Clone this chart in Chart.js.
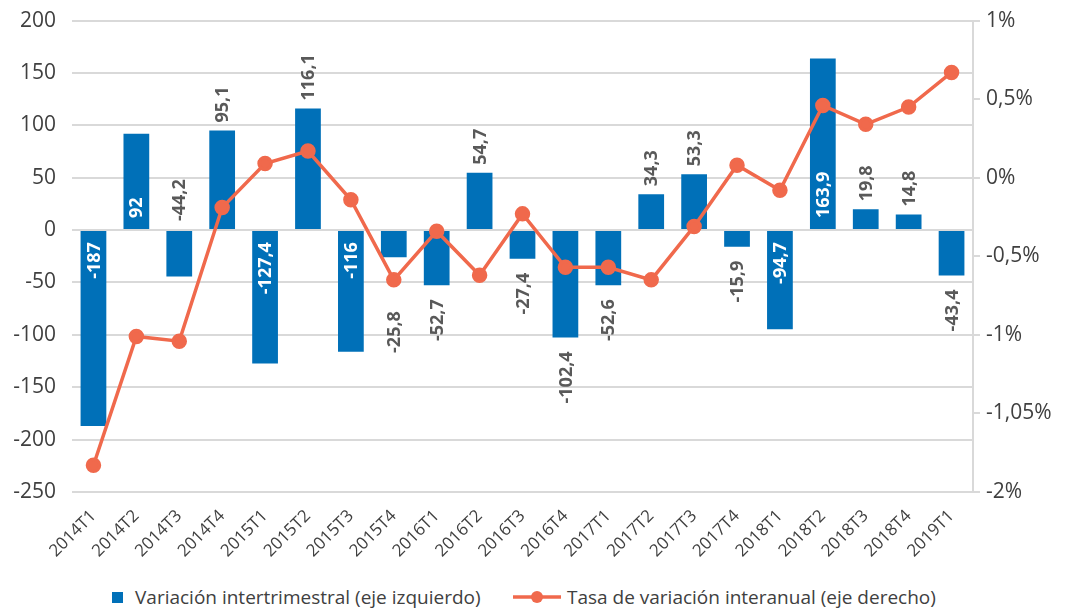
<!DOCTYPE html>
<html>
<head>
<meta charset="utf-8">
<script src="https://cdn.jsdelivr.net/npm/chart.js@4.4.1/dist/chart.umd.min.js"></script>
<style>
  body{margin:0;background:#fff;font-family:"Open Sans",sans-serif;overflow:hidden;}
  #wrap{position:relative;width:1067px;height:612px;overflow:hidden;}
  #box{position:absolute;left:0;top:-8px;width:1067px;height:583px;}
  #legend{position:absolute;left:0;top:584px;width:1067px;font-size:19px;color:#404040;}
  .item{position:absolute;top:0;white-space:nowrap;line-height:26px;}
  .sq{position:absolute;width:11px;height:11px;background:#0070b8;top:8px;}
</style>
</head>
<body>
<div id="wrap">
  <div id="box"><canvas id="chart"></canvas></div>
  <div id="legend">
    <div class="sq" style="left:112px"></div>
    <div class="item" style="left:135px">Variación intertrimestral (eje izquierdo)</div>
    <svg style="position:absolute;left:511px;top:3px" width="52" height="20">
      <line x1="2" y1="10" x2="50" y2="10" stroke="#f0694c" stroke-width="3.5"/>
      <circle cx="26" cy="10" r="6" fill="#f0694c"/>
    </svg>
    <div class="item" style="left:567px">Tasa de variación interanual (eje derecho)</div>
  </div>
</div>
<script>
const quarters = ["2014T1","2014T2","2014T3","2014T4","2015T1","2015T2","2015T3","2015T4",
  "2016T1","2016T2","2016T3","2016T4","2017T1","2017T2","2017T3","2017T4",
  "2018T1","2018T2","2018T3","2018T4","2019T1"];
const quarterlyChange = [-187,92,-44.2,95.1,-127.4,116.1,-116,-25.8,-52.7,54.7,-27.4,-102.4,
  -52.6,34.3,53.3,-15.9,-94.7,163.9,19.8,14.8,-43.4];
const yearlyRate = [-1.83,-1.01,-1.04,-0.19,0.09,0.17,-0.14,-0.65,-0.34,-0.62,-0.23,-0.57,
  -0.57,-0.65,-0.31,0.08,-0.08,0.46,0.34,0.45,0.67];
const rightTickLabels = ["-2%","-1,05%","-1%","-0,5%","0%","0,5%","1%"];

// which bar labels sit inside the bar (white), the odd one put above zero,
// and the one pushed down to clear the line marker
const insideLabels = [0,1,4,6,16,17];
const aboveZeroLabels = [2];
const pushedDown = {7: 40};

const BLUE = "#0070b8", RED = "#f0694c", TXT = "#404040", GRID = "#d9d9d9";

const barLabels = {
  id: "barLabels",
  afterDatasetsDraw(chart){
    const ctx = chart.ctx;
    const meta = chart.getDatasetMeta(1);
    ctx.save();
    ctx.font = "bold 18px 'Open Sans'";
    ctx.textBaseline = "middle";
    meta.data.forEach((bar, i) => {
      const v = quarterlyChange[i];
      const txt = String(v).replace(".", ",");
      let y, align;
      if (insideLabels.includes(i)) {
        ctx.fillStyle = "#fff";
        if (v >= 0) { y = bar.base - 11; align = "left"; }
        else { y = bar.base + 11; align = "right"; }
      } else {
        ctx.fillStyle = "#595959";
        if (aboveZeroLabels.includes(i)) { y = bar.base - 10; align = "left"; }
        else if (v >= 0) { y = bar.y - 8; align = "left"; }
        else { y = bar.y + 14 + (pushedDown[i] || 0); align = "right"; }
      }
      ctx.save();
      ctx.translate(bar.x, y);
      ctx.rotate(-Math.PI/2);
      ctx.textAlign = align;
      ctx.fillText(txt, 0, 1);
      ctx.restore();
    });
    ctx.restore();
  }
};

new Chart(document.getElementById("chart"), {
  data: {
    labels: quarters,
    datasets: [
      {type:"line", label:"Tasa de variación interanual (eje derecho)", data: yearlyRate, yAxisID:"y1",
       borderColor: RED, backgroundColor: RED, borderWidth: 3.5, pointRadius: 6, pointHoverRadius: 6,
       tension: 0, order: 0},
      {type:"bar", label:"Variación intertrimestral (eje izquierdo)", data: quarterlyChange, yAxisID:"y",
       backgroundColor: BLUE, barPercentage: 0.6, categoryPercentage: 1, order: 1}
    ]
  },
  options: {
    responsive: true,
    maintainAspectRatio: false,
    animation: false,
    layout: {padding: {top: 0}},
    plugins: {legend: {display: false}, tooltip: {enabled: false}},
    scales: {
      x: {
        grid: {display: false},
        border: {display: false},
        ticks: {color: TXT, font: {family: "Open Sans", size: 17}, minRotation: 45, maxRotation: 45,
          padding: 6, autoSkip: false},
        afterFit(s){ s.height = 83; }
      },
      y: {
        position: "left", min: -250, max: 200,
        ticks: {stepSize: 50, color: TXT, font: {family: "Open Sans", size: 21}, padding: 16},
        grid: {color: GRID, lineWidth: 2, drawTicks: false},
        border: {display: false},
        afterFit(s){ s.width = 72; }
      },
      y1: {
        position: "right", min: -2, max: 1,
        ticks: {stepSize: 0.5, color: TXT, font: {family: "Open Sans", size: 21}, padding: 6,
          callback: (v) => rightTickLabels[Math.round((v + 2) / 0.5)]},
        grid: {drawOnChartArea: false, color: GRID, lineWidth: 2, tickLength: 7},
        border: {display: true, color: GRID, width: 2},
        afterFit(s){ s.width = 94; }
      }
    }
  },
  plugins: [barLabels]
});
</script>
</body>
</html>
